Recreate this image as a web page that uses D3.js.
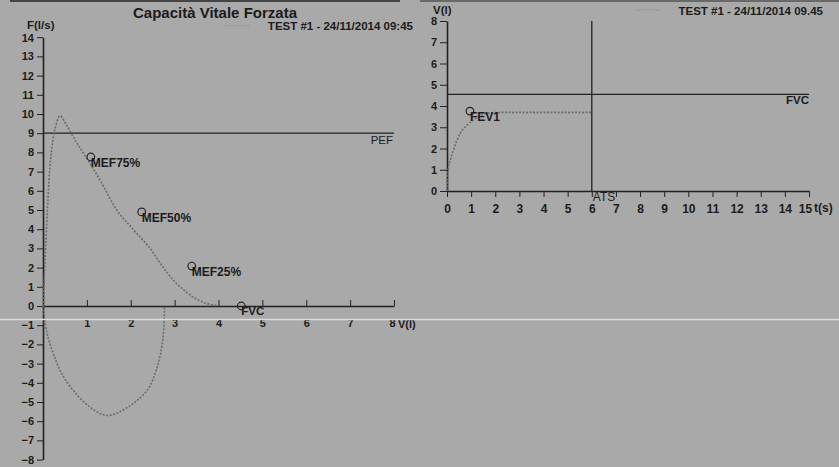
<!DOCTYPE html>
<html>
<head>
<meta charset="utf-8">
<script src="https://cdn.jsdelivr.net/npm/d3@7"></script>
<style>
  body { margin: 0; background: #a9a9a9; }
  svg { display: block; }
  text { font-family: "Liberation Sans", Arial, sans-serif; fill: #1c1c1c; }
  .tick text { font-size: 11px; font-weight: bold; }
  .big .tick text { font-size: 12px; }
</style>
</head>
<body>
<svg id="chart" width="839" height="467"></svg>
<script>
// ---- data ----
// flow-volume loop, expiratory part [V(l), F(l/s)]
const expLoop = [[0,0],[0.02,1],[0.06,3],[0.1,5],[0.15,7],[0.2,8.2],[0.27,9.2],[0.39,9.9],
  [0.54,9.4],[0.77,8.5],[1.05,7.5],[1.3,6.56],[1.68,5.0],[2.05,4.0],[2.44,3.0],
  [2.74,2.0],[2.95,1.4],[3.15,0.95],[3.42,0.47],[3.69,0.16],[3.95,0.03]];
// inspiratory part
const inspLoop = [[0,0],[0.09,-1.4],[0.23,-2.45],[0.4,-3.4],[0.62,-4.2],[1.07,-5.26],
  [1.46,-5.7],[1.91,-5.3],[2.37,-4.4],[2.6,-3.2],[2.73,-1.77],[2.77,0]];
// markers on the loop
const loopMarks = ["MEF75%", "MEF50%", "MEF25%", "FVC"];
const loopMarkV = [1.09, 2.25, 3.39, 4.52];
const loopMarkF = [7.76, 4.9, 2.08, 0];
const pef = 9;

// volume-time curve [t(s), V(l)]
const volTime = [[0,0],[0.05,1],[0.15,1.5],[0.26,1.9],[0.4,2.35],[0.54,2.7],[0.83,3.1],
  [1.1,3.35],[1.4,3.55],[1.8,3.68],[2.5,3.7],[6,3.7]];
const fev1 = [0.95, 3.76];
const fvc = 4.55;
const ats = 6;

const flowTicks = d3.range(-8, 15);
const volTicks = d3.range(1, 9);
const vtVolTicks = d3.range(0, 9);
const timeTicks = d3.range(0, 16);

const svg = d3.select('#chart');

// scan artefacts: top rule
svg.append('line').attr('x1', 10).attr('x2', 400).attr('y1', 1).attr('y2', 1)
  .attr('stroke', '#444').attr('stroke-width', 2);
svg.append('line').attr('x1', 420).attr('x2', 839).attr('y1', 1).attr('y2', 1)
  .attr('stroke', '#555').attr('stroke-width', 1.5);

function dotted(g, pts, line) {
  g.append('path').datum(pts).attr('d', line)
    .attr('fill', 'none').attr('stroke', '#6c6c6c')
    .attr('stroke-width', 1.6).attr('stroke-dasharray', '2,1.5');
}

// ===== left: flow-volume =====
const x1 = d3.scaleLinear().domain([0, 8]).range([43, 394]);
const y1 = d3.scaleLinear().domain([-8, 14]).range([459.6, 37.2]);
const left = svg.append('g');

left.append('text').attr('x', 215).attr('y', 18).attr('text-anchor', 'middle')
  .style('font-size', '15px').style('font-weight', 'bold').text('Capacità Vitale Forzata');
left.append('line').attr('x1', 225).attr('x2', 250).attr('y1', 26).attr('y2', 26)
  .attr('stroke', '#999').attr('stroke-width', 1);
left.append('text').attr('x', 413).attr('y', 30).attr('text-anchor', 'end')
  .style('font-size', '11.5px').style('font-weight', 'bold').text('TEST #1 - 24/11/2014  09:45');
left.append('text').attr('x', 27).attr('y', 29)
  .style('font-size', '11.5px').style('font-weight', 'bold').text('F(l/s)');

left.append('g').attr('transform', 'translate(43,0)')
  .call(d3.axisLeft(y1).tickValues(flowTicks).tickSize(6).tickSizeOuter(0).tickPadding(3))
  .call(g => g.select('.domain').attr('stroke', '#222').attr('stroke-width', 1.6))
  .call(g => g.selectAll('.tick line').attr('stroke', '#222'))
  .call(g => g.selectAll('.tick text').filter(d => d === 14).attr('dy', '0.42em'));

left.append('g').attr('transform', `translate(0,${y1(0)})`)
  .call(d3.axisBottom(x1).tickValues(volTicks).tickSize(-6).tickSizeOuter(0).tickPadding(13))
  .call(g => g.select('.domain').attr('stroke', '#222').attr('stroke-width', 1.6))
  .call(g => g.selectAll('.tick line').attr('stroke', '#222'))
  .call(g => g.selectAll('.tick text').filter(d => d === 8).attr('dx', -2));
left.append('text').attr('x', 398).attr('y', 328)
  .style('font-size', '11px').style('font-weight', 'bold').text('V(l)');

// PEF line
left.append('line').attr('x1', x1(0)).attr('x2', x1(8)).attr('y1', y1(pef)).attr('y2', y1(pef))
  .attr('stroke', '#222').attr('stroke-width', 1.3);
left.append('text').attr('x', x1(8) - 1).attr('y', y1(pef) + 11).attr('text-anchor', 'end')
  .style('font-size', '11.5px').text('PEF');

const loopLine = d3.line().x(d => x1(d[0])).y(d => y1(d[1])).curve(d3.curveCatmullRom);
dotted(left, expLoop, loopLine);
dotted(left, inspLoop, loopLine);

loopMarks.forEach((m, i) => {
  const cx = x1(loopMarkV[i]), cy = y1(loopMarkF[i]);
  left.append('circle').attr('cx', cx).attr('cy', cy).attr('r', 3.8)
    .attr('fill', 'none').attr('stroke', '#222').attr('stroke-width', 1.2);
  left.append('text').attr('x', cx).attr('y', cy + (m === 'FVC' ? 9 : 10))
    .style('font-size', m === 'FVC' ? '11.5px' : '12px').style('font-weight', 'bold').text(m);
});

// ===== right: volume-time =====
const x2 = d3.scaleLinear().domain([0, 15]).range([447, 809]);
const y2 = d3.scaleLinear().domain([0, 8]).range([191, 21]);
const right = svg.append('g');

right.append('text').attr('x', 433).attr('y', 14)
  .style('font-size', '11.5px').style('font-weight', 'bold').text('V(l)');
right.append('line').attr('x1', 637).attr('x2', 660).attr('y1', 10).attr('y2', 10)
  .attr('stroke', '#999').attr('stroke-width', 1);
right.append('text').attr('x', 823).attr('y', 15).attr('text-anchor', 'end')
  .style('font-size', '11.5px').style('font-weight', 'bold').text('TEST #1 - 24/11/2014  09.45');

right.append('g').attr('transform', 'translate(447,0)')
  .call(d3.axisLeft(y2).tickValues(vtVolTicks).tickSize(7).tickSizeOuter(0).tickPadding(3))
  .call(g => g.select('.domain').attr('stroke', '#222').attr('stroke-width', 1.6))
  .call(g => g.selectAll('.tick line').attr('stroke', '#222'));

right.append('g').attr('class', 'big').attr('transform', `translate(0,${y2(0)})`)
  .call(d3.axisBottom(x2).tickValues(timeTicks).tickSize(6).tickSizeOuter(0).tickPadding(7))
  .call(g => g.select('.domain').attr('stroke', '#222').attr('stroke-width', 1.6))
  .call(g => g.selectAll('.tick line').attr('stroke', '#222'))
  .call(g => g.selectAll('.tick text').filter(d => d === 15).attr('dx', -4));
right.append('text').attr('x', 814).attr('y', 212)
  .style('font-size', '12px').style('font-weight', 'bold').text('t(s)');

// FVC line
right.append('line').attr('x1', x2(0)).attr('x2', x2(15)).attr('y1', y2(fvc)).attr('y2', y2(fvc))
  .attr('stroke', '#222').attr('stroke-width', 1.3);
right.append('text').attr('x', x2(15)).attr('y', y2(fvc) + 10).attr('text-anchor', 'end')
  .style('font-size', '11.5px').style('font-weight', 'bold').text('FVC');

// ATS line
right.append('line').attr('x1', x2(ats)).attr('x2', x2(ats)).attr('y1', y2(0)).attr('y2', y2(8))
  .attr('stroke', '#222').attr('stroke-width', 1.3);
right.append('text').attr('x', x2(ats) + 1).attr('y', y2(0) + 10)
  .style('font-size', '12px').text('ATS');

const vtLine = d3.line().x(d => x2(d[0])).y(d => y2(d[1])).curve(d3.curveMonotoneX);
dotted(right, volTime, vtLine);

right.append('circle').attr('cx', x2(fev1[0])).attr('cy', y2(fev1[1])).attr('r', 3.8)
  .attr('fill', 'none').attr('stroke', '#222').attr('stroke-width', 1.2);
right.append('text').attr('x', x2(fev1[0])).attr('y', y2(fev1[1]) + 10)
  .style('font-size', '12px').style('font-weight', 'bold').text('FEV1');

// white scan streak
svg.append('line').attr('x1', 0).attr('x2', 839).attr('y1', 319.5).attr('y2', 319.5)
  .attr('stroke', '#dedede').attr('stroke-width', 1.3);
</script>
</body>
</html>
